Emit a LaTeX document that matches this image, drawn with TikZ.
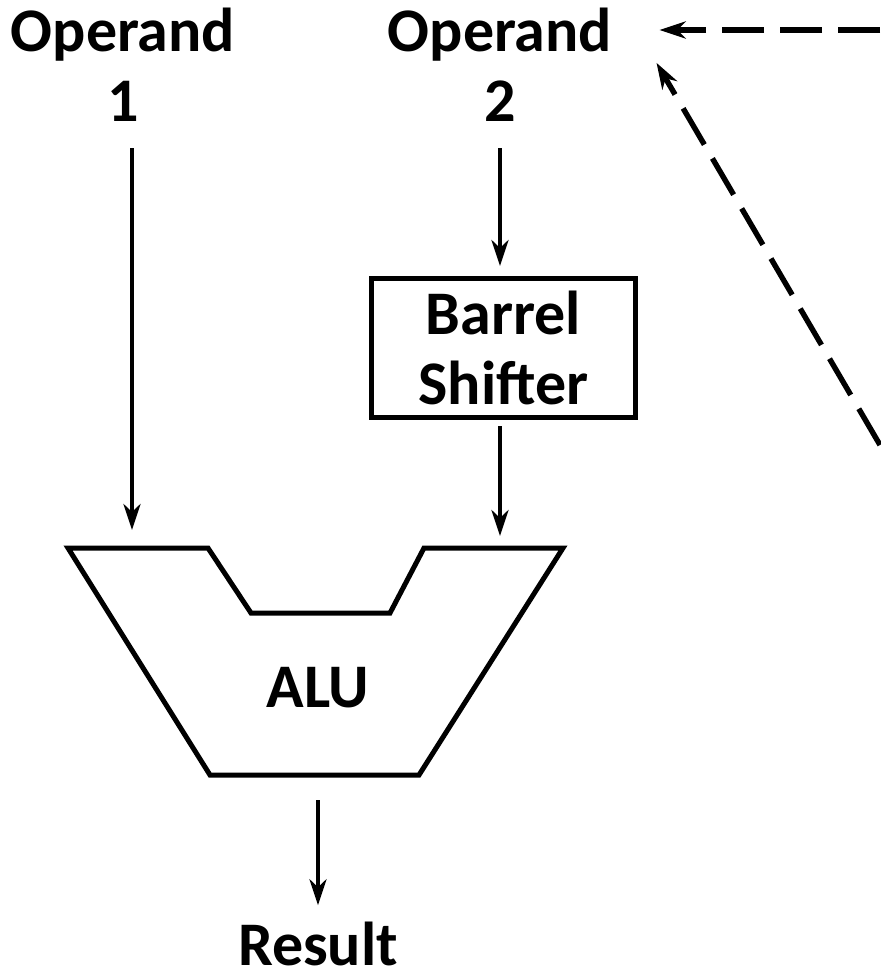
\documentclass[tikz,border=0pt]{standalone}
\usepackage{fontspec}
\setmainfont{Carlito}
\usepackage{tikz}
\usetikzlibrary{arrows,arrows.meta,positioning}

\begin{document}
\begin{tikzpicture}[x=0.5pt,y=-0.5pt]
\tikzstyle{lbl}=[inner sep=0pt,align=center,font=\bfseries\fontsize{31}{35}\selectfont]
\tikzstyle{shifter}=[lbl,draw,line width=2.5pt,minimum width=132pt,minimum height=69.5pt]
\tikzstyle{flow}=[line width=2pt,-{Stealth[length=13pt,width=8.5pt,inset=4pt]}]
\tikzstyle{back}=[line width=2.7pt,dash pattern=on 21pt off 8pt,-{Stealth[length=13pt,width=8.5pt,inset=4pt]}]
\useasboundingbox (0,0) rectangle (880,980);
\node[lbl,anchor=south] (op1) at (123,122) {Operand\\1};
\node[lbl,anchor=south] (op2) at (500,122) {Operand\\2};
\node[shifter] (bs) at (503.5,348) {Barrel\\Shifter};
\node[lbl] (alu) at (318,688) {ALU};
\node[lbl,anchor=south] (res) at (318,966) {Result};
\coordinate (in1) at (132,530);
\coordinate (in2) at (500,536);
\coordinate (out) at (318,800);
\coordinate (fb1) at (880,30);
\coordinate (fb2) at (880,445);
% ALU body
\draw[line width=2.5pt] (68,548) -- (208,548) -- (251,613) -- (390,613) -- (424,548)
  -- (563,548) -- (419,775) -- (210,775) -- cycle;
% data path
\draw[flow,shorten <=13pt] (in1 |- op1.south) -- (in1);
\draw[flow,shorten <=13pt,shorten >=5pt] (in2 |- op2.south) -- (in2 |- bs.north);
\draw[flow,shorten <=3pt] (in2 |- bs.south) -- (in2);
\draw[flow,shorten >=8pt] (out) -- (res.north);
% feedback
\draw[back,shorten >=23.5pt] (fb1) -- (fb1 -| op2.east);
\draw[back] (fb2) -- ([shift={(44,-2)}]op2.east);
\end{tikzpicture}
\end{document}
